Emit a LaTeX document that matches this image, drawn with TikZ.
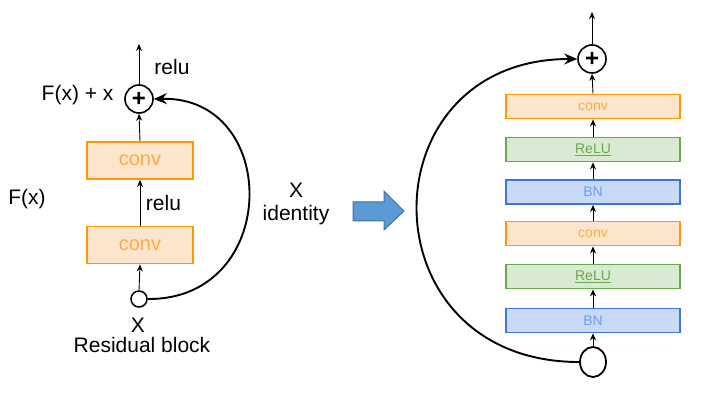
\documentclass[tikz,border=0pt]{standalone}
\usepackage{fontspec}
\setmainfont{Liberation Sans}
\usetikzlibrary{arrows.meta,shapes.geometric}
\definecolor{orB}{HTML}{FF9900}
\definecolor{orF}{HTML}{FCE5CD}
\definecolor{orT}{HTML}{FFAB40}
\definecolor{grB}{HTML}{6AA84F}
\definecolor{grF}{HTML}{D9EAD3}
\definecolor{grT}{HTML}{6AA84F}
\definecolor{blB}{HTML}{3C78D8}
\definecolor{blF}{HTML}{C9DAF8}
\definecolor{blT}{HTML}{6D9EEB}
\definecolor{arF}{HTML}{5B9BD5}
\definecolor{arB}{HTML}{41719C}
\tikzset{
  big/.style={font=\fontsize{21}{24}\selectfont},
  convbox/.style={draw=orB, fill=orF, text=orT, line width=1.8pt, inner sep=0pt},
  relubox/.style={draw=grB, fill=grF, text=grT, line width=1.8pt, inner sep=0pt},
  bnbox/.style={draw=blB, fill=blF, text=blT, line width=1.8pt, inner sep=0pt},
  leftbox/.style={minimum width=106pt, minimum height=37pt, font=\fontsize{20}{24}\selectfont},
  rightbox/.style={minimum width=174pt, minimum height=24pt, font=\fontsize{14}{16}\selectfont},
  plusnode/.style={draw, circle, line width=1.6pt, inner sep=0pt, font=\fontsize{24}{24}\selectfont\bfseries},
  thin arrow/.style={-{Stealth[length=7pt,width=6pt]}, line width=0.9pt},
  curve/.style={-{Stealth[length=13pt,width=11pt]}, line width=1.9pt},
}
\begin{document}
\begin{tikzpicture}[x=1pt,y=-1pt]
\useasboundingbox (0,0) rectangle (722,411);
% ---------- left block ----------
\node[plusnode, minimum size=28pt] (p1) at (139,99) {+};
\coordinate (t1) at (139,44);
\node[convbox, leftbox] (c1) at (140,160.5) {conv};
\node[convbox, leftbox] (c2) at (140,245) {conv};
\node[draw, circle, line width=1.5pt, minimum size=16pt, inner sep=0pt] (x1) at (139,299) {};
\draw[thin arrow] (p1) -- (t1);
\draw[thin arrow] (c1.north) -- (p1.south);
\draw[thin arrow] (c2.north) -- (c1.south);
\draw[thin arrow] (x1.north) -- (c2.south);
\draw[curve] (x1.east) .. controls (281,300) and (281,96) .. (p1.east);
\node[big] (r1) at (172,67) {relu};
\node[big, anchor=east] (fx1) at (117,95) {F(x) + x};
\node[big] (r2) at (163.5,203) {relu};
\node[big] (fx) at (27,199) {F(x)};
\node[big] (xl) at (138,325) {X};
\node[big] (rb) at (142,345) {Residual block};
% ---------- middle ----------
\node[big] (xm) at (296,190) {X};
\node[big] (id) at (296,215) {identity};
\draw[draw=arB, fill=arF, line width=1pt] (353,202) -- (384,202) -- (384,191) -- (404,211) -- (384,230) -- (384,221) -- (353,221) -- cycle;
% ---------- right block ----------
\node[plusnode, minimum size=28pt] (p2) at (592,59) {+};
\coordinate (t2) at (592,12);
\node[convbox, rightbox] (a1) at (593,106.5) {conv};
\node[relubox, rightbox] (a2) at (593,149.5) {\underline{ReLU}};
\node[bnbox, rightbox] (a3) at (593,192) {BN};
\node[convbox, rightbox] (a4) at (593,233.5) {conv};
\node[relubox, rightbox] (a5) at (593,276.5) {\underline{ReLU}};
\node[bnbox, rightbox] (a6) at (593,320.5) {BN};
\node[draw, ellipse, line width=1.8pt, minimum width=26pt, minimum height=30pt, inner sep=0pt] (x2) at (593,362) {};
\draw[thin arrow] (p2) -- (t2);
\draw[thin arrow] (a1.north) -- (p2.south);
\draw[thin arrow] (a2.north) -- (a1.south);
\draw[thin arrow] (a3.north) -- (a2.south);
\draw[thin arrow] (a4.north) -- (a3.south);
\draw[thin arrow] (a5.north) -- (a4.south);
\draw[thin arrow] (a6.north) -- (a5.south);
\draw[thin arrow] (x2.north) -- (a6.south);
\draw[curve] (x2.west) .. controls (364,362) and (364,59) .. (p2.west);
\end{tikzpicture}
\end{document}
